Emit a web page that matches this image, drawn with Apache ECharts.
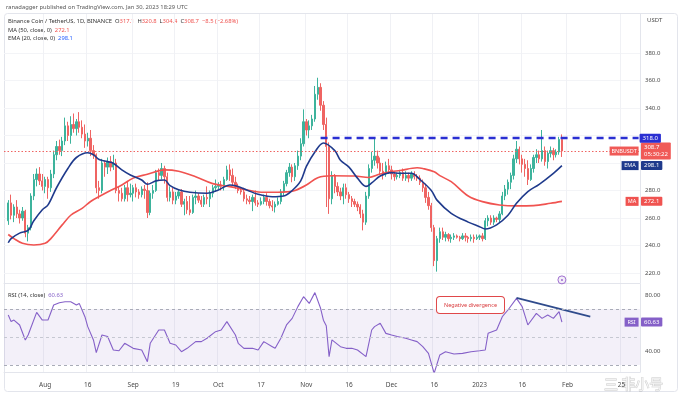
<!DOCTYPE html>
<html>
<head>
<meta charset="utf-8">
<title>BNBUSDT 1D</title>
<script src="https://cdn.jsdelivr.net/npm/echarts@6.0.0/dist/echarts.min.js"></script>
<style>
  html, body { margin: 0; padding: 0; background: #fff; }
  #chart { width: 682px; height: 397px; }
</style>
</head>
<body>
<div id="chart"></div>
<script>
var FONT = '"Noto Sans", "DejaVu Sans", sans-serif';

// 日期类目 2022-07-18 ~ 2023-02-26（右侧留白）
var categories = [];
var start = Date.UTC(2022, 6, 18);
for (var i = 0; i < 224; i++) {
  categories.push(new Date(start + i * 86400000).toISOString().slice(0, 10));
}
var firstCandle = 1; // 第一根K线 2022-07-19

// K线 [open, close, low, high]，2022-07-19 起逐日
var candles = [
  // Jul 19-31
  [258,271,255,273],[271,262,259,277],[262,268,257,270],[268,263,260,273],[263,260,256,266],
  [260,265,258,268],[265,249,246,266],[249,253,243,255],[253,276,251,278],[276,288,273,292],
  [288,292,283,296],[292,287,284,297],[287,283,280,292],
  // Aug
  [283,288,278,290],[288,282,274,290],[282,292,279,295],[292,306,289,309],[306,312,302,316],
  [312,309,306,317],[309,316,305,319],[316,327,313,333],[327,320,316,330],[320,328,314,334],
  [328,325,322,336],[325,330,320,332],[330,326,322,337],[326,321,318,331],[321,316,311,328],
  [316,318,312,322],[318,309,305,324],[309,306,303,313],[306,282,278,307],[282,280,274,287],
  [280,300,278,303],[300,297,290,302],[297,301,292,304],[301,297,294,305],[297,300,295,306],
  [300,280,278,303],[280,278,272,283],[278,274,272,282],[274,282,272,284],[282,277,272,287],
  [277,278,275,285],
  // Sep
  [278,282,272,284],[282,279,275,285],[279,277,274,281],[277,281,275,283],[281,280,274,284],
  [280,264,260,286],[264,278,262,280],[278,280,274,284],[280,293,279,295],[293,291,287,296],
  [291,296,288,300],[296,290,285,298],[290,275,272,293],[275,279,272,283],[279,273,270,282],
  [273,276,270,279],[276,279,274,281],[279,270,268,281],[270,272,262,274],[272,266,263,276],
  [266,264,262,276],[264,275,263,277],[275,276,270,280],[276,273,271,278],[273,270,268,276],
  [270,275,268,277],[275,274,270,283],[274,278,268,280],[278,282,275,284],[282,283,279,288],
  // Oct
  [283,284,281,286],[284,283,280,287],[283,288,280,290],[288,295,287,298],[295,291,287,299],
  [291,286,284,296],[286,283,281,290],[283,280,278,285],[280,279,277,282],[279,274,272,282],
  [274,273,270,277],[273,272,270,276],[272,275,265,277],[275,271,269,280],[271,270,268,273],
  [270,272,269,275],[272,275,270,277],[275,272,269,278],[272,269,267,274],[269,268,265,273],
  [268,270,264,272],[270,272,269,275],[272,279,270,281],[279,285,276,287],[285,293,283,295],
  [293,297,290,300],[297,290,286,299],[290,298,287,300],[298,305,295,309],[305,314,302,318],
  [314,330,312,339],
  // Nov
  [330,324,320,332],[324,327,318,331],[327,332,324,335],[332,350,330,356],[350,355,346,362],
  [355,342,338,358],[342,328,324,345],[328,312,268,333],[312,274,263,315],[274,291,270,294],
  [291,283,278,292],[283,279,276,286],[279,276,273,282],[276,282,270,285],[282,277,274,285],
  [277,274,271,279],[274,272,268,276],[272,270,268,274],[270,268,265,272],[268,263,260,270],
  [263,257,251,266],[257,276,255,279],[276,296,274,299],[296,302,293,308],[302,305,298,318],
  [305,300,296,309],[300,294,292,304],[294,292,288,300],[292,298,290,301],[298,295,292,303],
  // Dec
  [295,292,288,298],[292,290,287,294],[290,291,288,293],[291,293,289,295],[293,289,287,296],
  [289,291,287,294],[291,289,286,293],[289,292,287,294],[292,290,288,294],[290,289,287,292],
  [289,286,284,291],[286,282,279,288],[282,275,271,285],[275,269,266,279],[269,253,250,271],
  [253,229,225,255],[229,245,221,247],[245,250,242,253],[250,246,244,253],[246,248,243,250],
  [248,245,243,249],[245,246,242,248],[246,247,244,249],[247,246,245,248],[246,245,243,247],
  [245,247,244,249],[247,246,243,249],[246,245,242,247],[245,246,243,248],[246,245,242,248],
  [245,246,244,248],
  // Jan
  [246,247,244,248],[247,245,243,249],[245,258,244,260],[258,260,254,262],[260,257,255,262],
  [257,260,255,262],[260,259,257,261],[259,263,257,265],[263,276,262,279],[276,281,273,284],
  [281,286,277,288],[286,291,281,293],[291,303,288,306],[303,310,300,316],[310,303,299,312],
  [303,299,293,306],[299,296,290,303],[296,288,284,302],[288,296,287,299],[296,304,293,306],
  [304,306,300,310],[306,303,300,309],[303,309,301,324],[309,301,298,312],[301,307,296,309],
  [307,309,304,312],[309,306,302,311],[306,308,304,310],[308,317.1,306,319],[317.1,308.7,304.4,320.8]
];

// EMA(20) 读图采样：K线序号 / 数值
var emaDays = [0,1,4,7,9,12,14,17,21,24,28,30,32,35,37,40,43,47,49,52,55,57,60,64,70,74,78,80,84,88,
  93,97,100,103,105,108,111,115,117,120,123,126,128,131,135,138,142,145,149,151,156,162,166,168,172,
  176,179,183,187,192,195];
var emaValues = [242,245,249,251,258,266,269.5,282,296,304,307.5,306,302.5,301,299.8,295,291.3,287.6,284.5,287,
  287.6,283.5,280.5,278.7,278,280.4,284,283.5,280.4,277.2,275.5,276,280,287,297.5,308,314.5,309,302,297,
  289,283,285.5,290.5,293,292.5,292.5,288,280,273,263.4,257,253.7,252,255,262,270.7,279.2,284.5,292.5,298.1];

// MA(50) 读图采样
var maDays = [0,2,5,9,13,15,19,22,26,29,33,36,40,44,49,55,60,66,72,78,84,90,95,98,101,105,109,114,122,127,
  131,135,138,144,146,150,152,156,162,167,173,179,185,191,195];
var maValues = [248,245,241.6,240.4,241.6,245,255,262,267,272,276.7,280,284,289,291.8,295,294,290,285,282.8,
  280.4,278.7,278.7,279,280,284,289.3,290.7,290.5,289.5,292,293.7,294.5,296.5,296,293.7,290.8,286.4,276,271.9,
  269.5,268.8,269,270.7,272.1];

// RSI(14) 读图采样
var rsiDays = [0,1,2,4,6,7,10,12,14,16,18,20,22,24,25,27,28,30,31,33,35,37,39,41,44,47,49,50,53,55,57,59,61,63,
  66,68,70,73,75,77,80,81,83,86,88,90,93,94,96,98,100,102,104,106,108,110,111,112,113,114,117,119,121,123,
  126,128,129,131,133,135,137,140,142,144,146,148,150,152,154,157,160,163,166,168,169,172,174,176,179,181,
  183,186,188,190,192,194,195];
var rsiValues = [65.7,61,62.1,58.6,47.9,51.4,67.6,62.1,62.1,72.9,74.5,75.2,75.2,72.9,74,64.5,57.4,47.9,38.8,51.4,
  50.3,40.7,40.2,45.5,41.9,40.7,32.4,45.5,55,55,45.5,44.3,39.5,41.9,46.7,46.7,49.1,53.8,55,61,51.4,45.5,41.9,
  41.9,40.7,46.7,43.1,41.9,49.1,58.6,63.3,71.7,78.8,74,81.7,70.5,62,58,36,47.9,43.1,41.9,41.9,40.7,36,55,57.4,
  59.8,52.6,51.4,50.3,49.1,47.9,46.7,43.1,38.3,24.1,37.2,39.5,37.9,38.3,39.5,40.2,40.7,52.6,55,64.5,69.3,77.6,
  71.7,58.6,66.9,63.3,65.7,63.3,68.1,60.63];

// 背离趋势线
var divDates = ['2023-01-14', '2023-02-09'];
var divValues = [77.9, 64.5];

// 时间轴刻度
var tickDates = ['2022-08-01','2022-08-16','2022-09-01','2022-09-16','2022-10-01','2022-10-16','2022-11-01',
  '2022-11-16','2022-12-01','2022-12-16','2023-01-01','2023-01-16','2023-02-01','2023-02-20'];
var tickTexts = ['Aug','16','Sep','19','Oct','17','Nov','16','Dec','16','2023','16','Feb','25'];
var priceTicks = [220, 240, 260, 280, 300, 320, 340, 360, 380];
var priceLabels = [220, 240, 260, 280, 340, 360, 380];
var rsiTicks = [40, 80];

var lastClose = 308.7, resistance = 318, lastEma = 298.1, lastMa = 272.1, lastRsi = 60.63;

var UP = '#3db39c', DOWN = '#ef6462';
var RED = '#f05350', NAVY = '#1f3a8c', BLUE = '#2a2fd2', PURPLE = '#8560c8';
var lastCat = categories[categories.length - 1];

var tickMap = {};
tickDates.forEach(function (d, j) { tickMap[d] = tickTexts[j]; });
function isTick(idx, val) { return tickMap[val] !== undefined; }

function pairs(days, values) {
  return days.map(function (k, j) { return [k + firstCandle, values[j]]; });
}

function tag(text, bg) {
  return {
    show: true, position: 'end', distance: 1, formatter: text,
    backgroundColor: bg, color: '#fff', fontSize: 6, fontFamily: FONT,
    padding: [2, 3, 1, 3], borderRadius: 1
  };
}
function nameBox(value, text, w, bg) {
  return {
    coord: [lastCat, value], symbol: 'rect', symbolSize: [w, 9], symbolOffset: [-w / 2, 0],
    itemStyle: { color: bg },
    label: { show: true, position: 'inside', formatter: text, color: '#fff', fontSize: 5.5, fontFamily: FONT }
  };
}

var candleData = candles.map(function (c, k) { return [k + firstCandle].concat(c); });

var chart = echarts.init(document.getElementById('chart'));

var option = {
  animation: false,
  backgroundColor: '#fff',
  grid: [
    { left: 4, right: 42, top: 14, height: 269 },
    { left: 4, right: 42, top: 284, height: 88 }
  ],
  xAxis: [
    {
      type: 'category', gridIndex: 0, data: categories,
      axisLabel: { show: false }, axisTick: { show: false },
      axisLine: { show: true, lineStyle: { color: '#e3e5ec' } },
      splitLine: { show: true, interval: isTick, lineStyle: { color: '#f0f1f5' } }
    },
    {
      type: 'category', gridIndex: 1, data: categories,
      axisTick: { show: false },
      axisLine: { show: true, lineStyle: { color: '#e3e5ec' } },
      axisLabel: {
        interval: isTick, formatter: function (v) { return tickMap[v] || ''; },
        fontSize: 6.5, color: '#4a4a4a', fontFamily: FONT, margin: 10
      },
      splitLine: { show: true, interval: isTick, lineStyle: { color: '#f0f1f5' } }
    }
  ],
  yAxis: [
    {
      type: 'value', gridIndex: 0, position: 'right', min: 212.73, max: 408.36,
      axisLine: { show: true, lineStyle: { color: '#e3e5ec' } },
      axisTick: { show: false, customValues: priceTicks },
      axisLabel: {
        customValues: priceLabels, formatter: function (v) { return v.toFixed(1); },
        fontSize: 6, color: '#4a4a4a', fontFamily: FONT, margin: 5
      },
      splitLine: { show: true, lineStyle: { color: '#f3f4f7' } }
    },
    {
      type: 'value', gridIndex: 1, position: 'right', min: 25, max: 87.86,
      axisLine: { show: true, lineStyle: { color: '#e3e5ec' } },
      axisTick: { show: false, customValues: rsiTicks },
      axisLabel: {
        customValues: rsiTicks, formatter: function (v) { return v.toFixed(2); },
        fontSize: 6, color: '#4a4a4a', fontFamily: FONT, margin: 5
      },
      splitLine: { show: false }
    }
  ],
  series: [
    {
      name: 'BNBUSDT', type: 'candlestick', xAxisIndex: 0, yAxisIndex: 0,
      data: candleData, encode: { x: 0, y: [1, 2, 3, 4] },
      barWidth: '64%',
      itemStyle: { color: UP, color0: DOWN, borderColor: UP, borderColor0: DOWN, borderWidth: 1 },
      markLine: {
        symbol: ['none', 'none'], silent: true,
        data: [
          {
            yAxis: lastClose,
            lineStyle: { type: [1.5, 2], color: DOWN, width: 1 },
            label: Object.assign(tag(lastClose.toFixed(1) + '\n05:30:22', '#f05a57'), { lineHeight: 7 })
          },
          [
            { coord: ['2022-11-06', resistance], lineStyle: { type: [7, 5], color: BLUE, width: 2.4 },
              label: tag(resistance.toFixed(1), BLUE) },
            { coord: [lastCat, resistance] }
          ]
        ]
      },
      markPoint: {
        silent: true,
        data: [
          nameBox(lastClose, 'BNBUSDT', 29, '#f05a57'),
          {
            coord: ['2023-01-30', 215], symbol: 'circle', symbolSize: 8,
            itemStyle: { color: 'rgba(160,112,208,0.12)', borderColor: '#a070d0', borderWidth: 1 },
            label: { show: true, position: 'inside', formatter: '•', color: '#a070d0', fontSize: 7 }
          }
        ]
      }
    },
    {
      name: 'MA', type: 'line', xAxisIndex: 0, yAxisIndex: 0,
      data: pairs(maDays, maValues), smooth: 0.35, showSymbol: false,
      lineStyle: { color: RED, width: 1.6 },
      markLine: {
        symbol: ['none', 'none'], silent: true,
        data: [{ yAxis: lastMa, lineStyle: { color: 'transparent' }, label: tag(lastMa.toFixed(1), RED) }]
      },
      markPoint: { silent: true, data: [nameBox(lastMa, 'MA', 13, RED)] }
    },
    {
      name: 'EMA', type: 'line', xAxisIndex: 0, yAxisIndex: 0,
      data: pairs(emaDays, emaValues), smooth: 0.35, showSymbol: false,
      lineStyle: { color: NAVY, width: 1.6 },
      markLine: {
        symbol: ['none', 'none'], silent: true,
        data: [{ yAxis: lastEma, lineStyle: { color: 'transparent' }, label: tag(lastEma.toFixed(1), NAVY) }]
      },
      markPoint: { silent: true, data: [nameBox(lastEma, 'EMA', 17, NAVY)] }
    },
    {
      name: 'RSI', type: 'line', xAxisIndex: 1, yAxisIndex: 1,
      data: pairs(rsiDays, rsiValues), showSymbol: false,
      lineStyle: { color: PURPLE, width: 1.1 },
      markArea: {
        silent: true,
        itemStyle: { color: 'rgba(126,87,194,0.09)' },
        data: [[{ yAxis: 30 }, { yAxis: 70 }]]
      },
      markLine: {
        symbol: ['none', 'none'], silent: true,
        data: [
          { yAxis: 70, lineStyle: { type: [3, 3], color: '#a9acb8', width: 1 }, label: { show: false } },
          { yAxis: 50, lineStyle: { type: [3, 3], color: '#c6c8d2', width: 1 }, label: { show: false } },
          { yAxis: 30, lineStyle: { type: [3, 3], color: '#a9acb8', width: 1 }, label: { show: false } },
          { yAxis: lastRsi, lineStyle: { color: 'transparent' }, label: tag(lastRsi.toFixed(2), PURPLE) }
        ]
      },
      markPoint: { silent: true, data: [nameBox(lastRsi, 'RSI', 14, PURPLE)] }
    },
    {
      name: 'divergence', type: 'line', xAxisIndex: 1, yAxisIndex: 1,
      data: divDates.map(function (d, j) { return [d, divValues[j]]; }),
      showSymbol: false, lineStyle: { color: '#2f4b8c', width: 1.8 },
      markPoint: {
        silent: true,
        data: [{
          coord: [divDates[0], divValues[0]], symbolSize: 0,
          label: {
            show: true, position: 'inside', offset: [-46, 7], formatter: 'Negative divergence',
            color: '#d8383a', fontSize: 5.5, fontFamily: FONT,
            backgroundColor: '#fff', borderColor: '#e0484a', borderWidth: 1, borderRadius: 3,
            padding: [5, 7]
          }
        }]
      }
    }
  ],
  graphic: [
    {
      type: 'rect', silent: true,
      shape: { x: 4.5, y: 13.5, width: 673, height: 378, r: 3 },
      style: { fill: 'none', stroke: '#e3e5ec', lineWidth: 1 }
    },
    {
      type: 'text', x: 6, y: 4,
      style: { text: 'ranadagger published on TradingView.com, Jan 30, 2023 18:29 UTC', fontSize: 5.8, fontFamily: FONT, fill: '#555' }
    },
    {
      type: 'text', x: 8, y: 18,
      style: {
        text: 'Binance Coin / TetherUS, 1D, BINANCE  O{r|317.1}  H{r|320.8}  L{r|304.4}  C{r|308.7}  {r|−8.5 (−2.68%)}',
        fontSize: 5.8, fontFamily: FONT, fill: '#333',
        rich: { r: { fill: '#ef5350', fontSize: 5.8, fontFamily: FONT } }
      }
    },
    {
      type: 'text', x: 8, y: 27,
      style: {
        text: 'MA (50, close, 0)  {r|272.1}', fontSize: 5.8, fontFamily: FONT, fill: '#333',
        rich: { r: { fill: '#ef5350', fontSize: 5.8, fontFamily: FONT } }
      }
    },
    {
      type: 'text', x: 8, y: 35,
      style: {
        text: 'EMA (20, close, 0)  {b|298.1}', fontSize: 5.8, fontFamily: FONT, fill: '#333',
        rich: { b: { fill: '#2962ff', fontSize: 5.8, fontFamily: FONT } }
      }
    },
    {
      type: 'text', x: 8, y: 292,
      style: {
        text: 'RSI (14, close)  {p|60.63}', fontSize: 5.8, fontFamily: FONT, fill: '#333',
        rich: { p: { fill: PURPLE, fontSize: 5.8, fontFamily: FONT } }
      }
    },
    {
      type: 'text', x: 647, y: 17,
      style: { text: 'USDT', fontSize: 6, fontFamily: FONT, fill: '#4a4a4a' }
    },
    {
      type: 'text', x: 604, y: 377,
      style: {
        text: '三 非小号', fontSize: 14, fontFamily: '"Noto Sans CJK SC", sans-serif',
        fill: 'rgba(255,255,255,0.7)', stroke: 'rgba(130,130,130,0.45)', lineWidth: 0.8
      }
    }
  ]
};

chart.setOption(option);
</script>
</body>
</html>
